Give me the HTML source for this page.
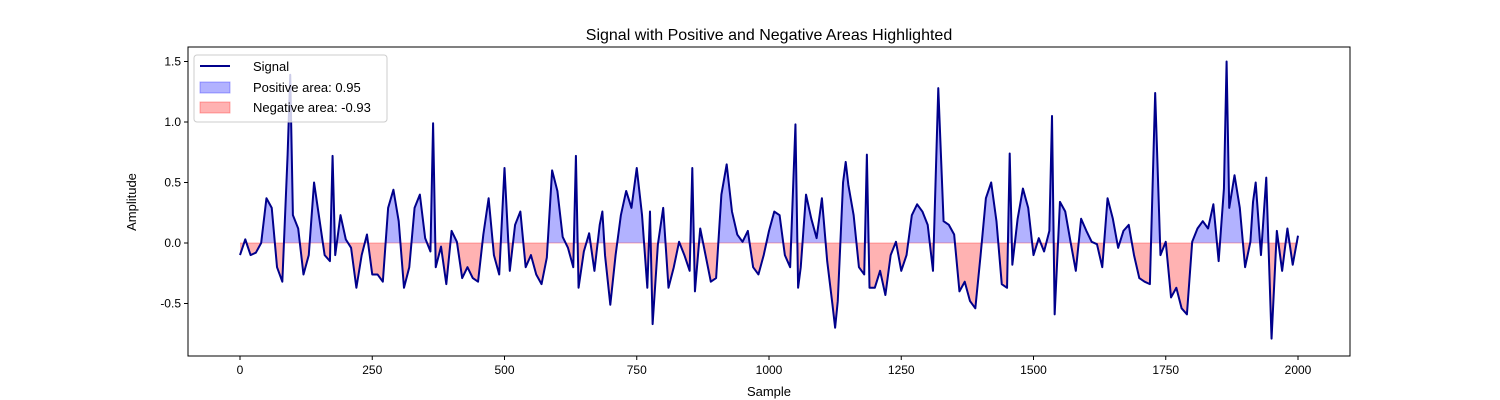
<!DOCTYPE html>
<html><head><meta charset="utf-8"><style>
html,body{margin:0;padding:0;background:#fff}
svg{display:block;font-family:"Liberation Sans","DejaVu Sans",sans-serif}
</style></head><body>
<svg id="chart" width="1500" height="400" viewBox="0 0 1500 400">
<defs>
<clipPath id="clipPos"><rect x="188" y="0" width="1162" height="243"/></clipPath>
<clipPath id="clipNeg"><rect x="188" y="243" width="1162" height="200"/></clipPath>
</defs>
<rect x="0" y="0" width="1500" height="400" fill="#fff"/>
<text x="769" y="40" font-size="16" text-anchor="middle">Signal with Positive and Negative Areas Highlighted</text>
<g id="fills"></g>
<g id="lines"></g>
<g id="axes"></g>
<text x="769" y="396" font-size="13" text-anchor="middle">Sample</text>
<text x="136" y="202" font-size="13" text-anchor="middle" transform="rotate(-90 136 202)">Amplitude</text>
<g>
<rect x="194" y="55" width="193" height="67" rx="3" fill="#fff" fill-opacity="0.8" stroke="#ccc"/>
<line x1="200" y1="66" x2="230" y2="66" stroke="#00008b" stroke-width="2"/>
<text x="253" y="71" font-size="13">Signal</text>
<rect x="200" y="82" width="30" height="11" fill="rgba(0,0,255,0.3)" stroke="rgba(0,0,255,0.3)"/>
<text x="253" y="92" font-size="13">Positive area: 0.95</text>
<rect x="200" y="102" width="30" height="11" fill="rgba(255,0,0,0.3)" stroke="rgba(255,0,0,0.3)"/>
<text x="253" y="112" font-size="13">Negative area: -0.93</text>
</g>
</svg>
<script>
const samples = [0,10,20,30,40,50,60,70,80,90,95,100,110,120,130,140,150,160,170,175,180,190,200,210,220,230,240,250,260,270,280,290,300,310,320,330,340,350,360,365,370,380,390,400,410,420,430,440,450,460,470,480,490,500,510,520,530,540,550,560,570,580,590,600,610,620,630,635,640,650,660,670,680,685,690,700,710,720,730,740,750,760,770,775,780,790,800,810,820,830,840,850,855,860,870,880,890,900,910,920,930,940,950,960,970,980,990,1000,1010,1020,1030,1040,1050,1055,1060,1070,1080,1090,1100,1110,1120,1125,1130,1140,1145,1150,1160,1170,1180,1185,1190,1200,1210,1220,1230,1240,1250,1260,1270,1280,1290,1300,1310,1320,1330,1340,1350,1360,1370,1380,1390,1400,1410,1420,1430,1440,1450,1455,1460,1470,1480,1490,1500,1510,1520,1530,1535,1540,1550,1560,1570,1580,1590,1600,1610,1620,1630,1640,1650,1660,1670,1680,1690,1700,1710,1720,1730,1740,1750,1760,1770,1780,1790,1800,1810,1820,1830,1840,1850,1860,1865,1870,1880,1890,1900,1910,1915,1920,1930,1940,1950,1960,1970,1980,1990,2000];
const amplitude = [-0.10,0.03,-0.10,-0.08,0.0,0.37,0.29,-0.2,-0.32,0.73,1.39,0.23,0.12,-0.26,-0.10,0.5,0.2,-0.1,-0.15,0.72,-0.1,0.23,0.03,-0.04,-0.37,-0.1,0.07,-0.26,-0.26,-0.32,0.29,0.44,0.18,-0.37,-0.2,0.29,0.4,0.04,-0.07,0.99,-0.2,-0.03,-0.34,0.1,0.01,-0.29,-0.2,-0.29,-0.32,0.07,0.37,-0.1,-0.26,0.62,-0.23,0.15,0.26,-0.2,-0.1,-0.26,-0.34,-0.12,0.6,0.43,0.05,-0.04,-0.2,0.72,-0.37,-0.07,0.08,-0.23,0.15,0.26,-0.1,-0.51,-0.1,0.23,0.43,0.29,0.62,0.23,-0.37,0.26,-0.67,-0.01,0.29,-0.37,-0.2,0.01,-0.1,-0.23,0.62,-0.4,0.12,-0.1,-0.32,-0.29,0.4,0.65,0.26,0.07,0.01,0.1,-0.2,-0.26,-0.1,0.1,0.26,0.23,-0.1,-0.2,0.98,-0.37,-0.2,0.4,0.2,0.04,0.37,-0.15,-0.51,-0.7,-0.48,0.5,0.67,0.48,0.23,-0.2,-0.26,0.73,-0.37,-0.37,-0.23,-0.43,-0.1,0.01,-0.23,-0.1,0.23,0.32,0.26,0.15,-0.23,1.28,0.18,0.15,0.07,-0.4,-0.32,-0.48,-0.54,-0.1,0.37,0.5,0.18,-0.34,-0.37,0.74,-0.18,0.2,0.45,0.29,-0.1,0.04,-0.07,0.1,1.05,-0.59,0.34,0.26,0.01,-0.23,0.2,0.1,0.01,-0.01,-0.2,0.37,0.2,-0.04,0.1,0.15,-0.1,-0.29,-0.32,-0.34,1.24,-0.1,0.01,-0.45,-0.37,-0.54,-0.59,0.01,0.12,0.18,0.12,0.32,-0.15,0.45,1.5,0.29,0.56,0.29,-0.2,0.01,0.34,0.5,-0.1,0.54,-0.79,0.1,-0.23,0.12,-0.18,0.06];
const xTicks = [0,250,500,750,1000,1250,1500,1750,2000];
const yTicks = [-0.5,0.0,0.5,1.0,1.5];

const NS='http://www.w3.org/2000/svg';
const L=188,R=1350,T=47,B=356;
function xs(v){return 240+(v-0)*(1298-240)/2000;}
function ys(v){return 243-v*121;}
function mk(tag,attrs,parent){const e=document.createElementNS(NS,tag);for(const k in attrs)e.setAttribute(k,attrs[k]);parent.appendChild(e);return e;}

const fills=document.getElementById('fills');
let pts=samples.map((s,i)=>xs(s).toFixed(2)+','+ys(amplitude[i]).toFixed(2));
let poly=xs(samples[0])+','+ys(0)+' '+pts.join(' ')+' '+xs(samples[samples.length-1])+','+ys(0);
const pos=mk('polygon',{points:poly,fill:'rgba(0,0,255,0.3)','clip-path':'url(#clipPos)'},fills);


const neg=mk('polygon',{points:poly,fill:'rgba(255,0,0,0.3)','clip-path':'url(#clipNeg)'},fills);


const zl=mk('line',{x1:xs(samples[0]),x2:xs(samples[samples.length-1]),y1:ys(0),y2:ys(0),stroke:'rgba(255,0,0,0.3)','stroke-width':1},fills);



const lines=document.getElementById('lines');
const sig=mk('polyline',{points:pts.join(' '),fill:'none',stroke:'#00008b','stroke-width':2,'stroke-linejoin':'round'},lines);



const axes=document.getElementById('axes');
const frame=mk('rect',{x:L,y:T,width:R-L,height:B-T,fill:'none',stroke:'#000','stroke-width':1},axes);


xTicks.forEach(t=>{
  const x=xs(t);
  const tk=mk('line',{x1:x,x2:x,y1:B,y2:B+4,stroke:'#000'},axes);
  
  
  const tl=mk('text',{x:x,y:B+18,'font-size':12,'text-anchor':'middle'},axes);
  tl.textContent=t;
  
  
});
yTicks.forEach(t=>{
  const y=ys(t);
  const tk=mk('line',{x1:L-4,x2:L,y1:y,y2:y,stroke:'#000'},axes);
  
  
  const tl=mk('text',{x:L-7,y:y+4,'font-size':12,'text-anchor':'end'},axes);
  tl.textContent=t.toFixed(1);
  
  
});
</script>
</body></html>
